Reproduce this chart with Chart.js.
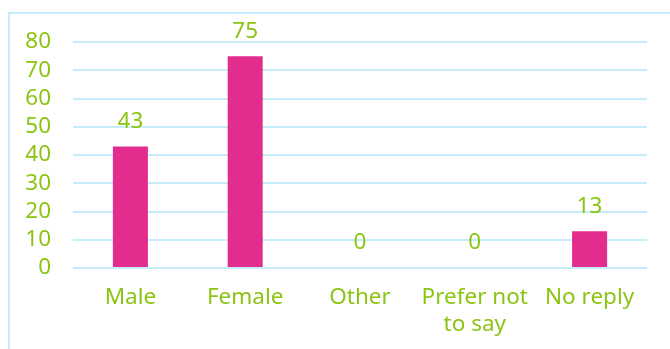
<!DOCTYPE html>
<html>
<head>
<meta charset="utf-8">
<script src="https://cdn.jsdelivr.net/npm/chart.js@4/dist/chart.umd.min.js"></script>
<style>
  html, body { margin: 0; padding: 0; background: #fff; overflow: hidden; }
  #wrap { position: relative; width: 670px; height: 349px; }
  #frame { position: absolute; left: 8px; top: 12px; width: 700px; height: 400px;
           border: 2px solid #c6eefa; box-sizing: border-box; }
  canvas { position: absolute; left: 0; top: 0; }
</style>
</head>
<body>
<div id="wrap">
  <div id="frame"></div>
  <canvas id="grafico" width="670" height="349"></canvas>
</div>
<script>
const categorias = ['Male', 'Female', 'Other', ['Prefer not', 'to say'], 'No reply']
const respostas = [43, 75, 0, 0, 13]
const marcasY = [0, 10, 20, 30, 40, 50, 60, 70, 80]

const verde = '#8cc414'
const fonte = 'Noto Sans'
const tamanho = 22.5

// escreve o valor acima de cada barra
const rotulos = {
    id: 'rotulos',
    afterDatasetsDraw(chart) {
        const ctx = chart.ctx
        const meta = chart.getDatasetMeta(0)
        ctx.save()
        ctx.fillStyle = verde
        ctx.font = tamanho + 'px "' + fonte + '"'
        ctx.textAlign = 'center'
        ctx.textBaseline = 'middle'
        meta.data.forEach((barra, i) => {
            ctx.fillText(String(respostas[i]), barra.x, barra.y - 25)
        })
        ctx.restore()
    }
}

new Chart(document.querySelector('#grafico'), {
    type: 'bar',
    data: {
        labels: categorias,
        datasets: [{
            data: respostas,
            backgroundColor: '#e32d8e',
            barPercentage: 0.305,
            categoryPercentage: 1
        }]
    },
    options: {
        responsive: false,
        animation: false,
        layout: { padding: { top: 42, right: 23, left: 0, bottom: 0 } },
        plugins: {
            legend: { display: false },
            tooltip: { enabled: false }
        },
        scales: {
            y: {
                min: 0,
                max: 80,
                afterBuildTicks: s => { s.ticks = marcasY.map(v => ({ value: v })) },
                afterFit: s => { s.width = 73 },
                border: { display: false },
                grid: { color: '#c6eefa', lineWidth: 2, drawTicks: false },
                ticks: {
                    color: verde,
                    padding: 22,
                    autoSkip: false,
                    font: { family: fonte, size: tamanho }
                }
            },
            x: {
                afterFit: s => { s.height = 81 },
                border: { display: false },
                grid: { display: false, drawTicks: false },
                ticks: {
                    color: verde,
                    padding: 16,
                    maxRotation: 0,
                    autoSkip: false,
                    font: { family: fonte, size: tamanho, lineHeight: 1.2 }
                }
            }
        }
    },
    plugins: [rotulos]
})
</script>
</body>
</html>
